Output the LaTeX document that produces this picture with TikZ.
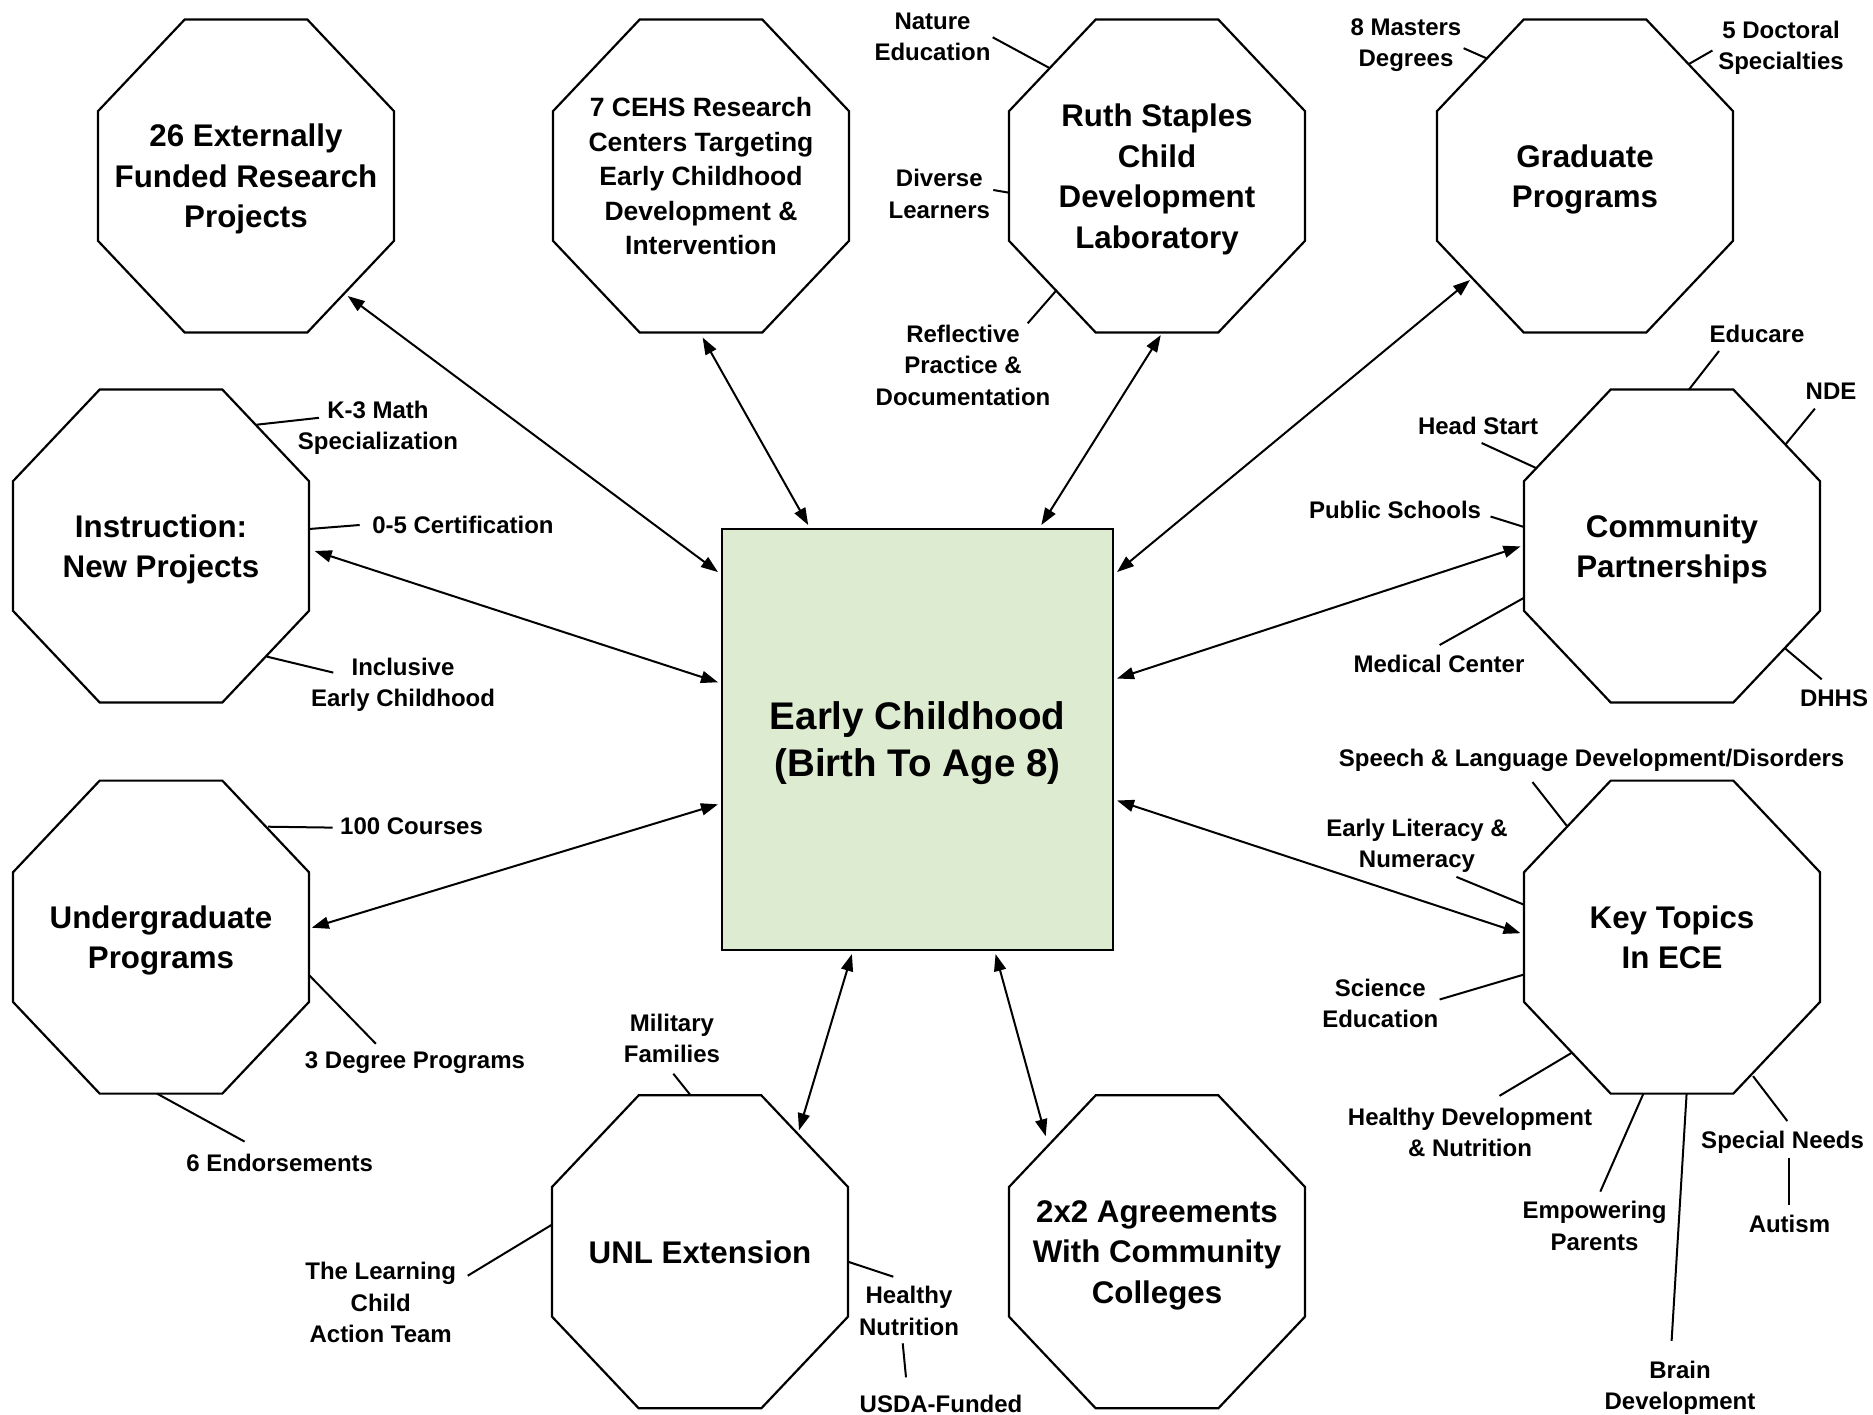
\documentclass[tikz,border=0pt]{standalone}
\usepackage{fontspec}
\setmainfont{Liberation Sans}
\usetikzlibrary{shapes,arrows,arrows.meta,calc,positioning}
\definecolor{hubfill}{RGB}{221,235,209}
\tikzset{oct/.style={rectangle,outer sep=0pt,inner sep=0pt,minimum width=296pt,minimum height=313pt,text depth=0pt,align=center,font=\fontsize{31.3}{40.6}\selectfont\bfseries}}
\tikzset{octline/.style={draw,line width=2.2pt,line join=miter}}
\tikzset{hub/.style={rectangle,draw,fill=hubfill,line width=2pt,minimum width=391pt,minimum height=421pt,outer sep=4pt,text depth=0pt,align=center,font=\fontsize{38.5}{47}\selectfont\bfseries}}
\tikzset{lbl/.style={inner sep=2pt,align=center,font=\fontsize{24}{31.5}\selectfont\bfseries}}
\tikzset{lead/.style={draw,line width=2pt}}
\tikzset{link/.style={draw,line width=2pt,<->}}

\begin{document}
\begin{tikzpicture}[x=1pt,y=-1pt,>={Triangle[length=17pt,width=12pt]}]
    \useasboundingbox (0,0) rectangle (1873,1414);

    \node[hub] (hub) at (917.5,739.5) {Early Childhood\\(Birth To Age 8)};

    \node[oct] (ext) at (246,176) {26 Externally\\Funded Research\\Projects};
    \node[oct,font=\fontsize{26.5}{34.6}\selectfont\bfseries] (cehs) at (701,176) {7 CEHS Research\\Centers Targeting\\Early Childhood\\Development \&\\Intervention};
    \node[oct] (ruth) at (1157,176) {Ruth Staples\\Child\\Development\\Laboratory};
    \node[oct] (grad) at (1585,176) {Graduate\\Programs};
    \node[oct] (instr) at (161,546) {Instruction:\\New Projects};
    \node[oct] (comm) at (1672,546) {Community\\Partnerships};
    \node[oct] (ugrad) at (161,937.1) {Undergraduate\\Programs};
    \node[oct] (key) at (1672,937.1) {Key Topics\\In ECE};
    \node[oct] (unl) at (700,1251.8) {UNL Extension};
    \node[oct] (cc) at (1157,1251.8) {2x2 Agreements\\With Community\\Colleges};

    \foreach \o in {ext,cehs,ruth,grad,instr,comm,ugrad,key,unl,cc}
        \path[octline] ($(\o.north)!.4142!(\o.north west)$) -- ($(\o.north)!.4142!(\o.north east)$)
            -- ($(\o.east)!.4142!(\o.north east)$) -- ($(\o.east)!.4142!(\o.south east)$)
            -- ($(\o.south)!.4142!(\o.south east)$) -- ($(\o.south)!.4142!(\o.south west)$)
            -- ($(\o.west)!.4142!(\o.south west)$) -- ($(\o.west)!.4142!(\o.north west)$) -- cycle;

    \node[lbl] (k3) at (378,428) {K-3 Math\\Specialization};
    \node[lbl] (cert) at (463,525) {0-5 Certification};
    \node[lbl] (incl) at (403,685) {Inclusive\\Early Childhood};
    \node[lbl] (nat) at (932.5,37) {Nature\\Education};
    \node[lbl] (div) at (939.3,193.7) {Diverse\\Learners};
    \node[lbl] (refl) at (963,365) {Reflective\\Practice \&\\Documentation};
    \node[lbl] (mas) at (1406,45) {8 Masters\\Degrees};
    \node[lbl] (doc) at (1781,47.7) {5 Doctoral\\Specialties};
    \node[lbl] (edu) at (1757,333.8) {Educare};
    \node[lbl] (nde) at (1831,391) {NDE};
    \node[lbl] (hs) at (1478,425.6) {Head Start};
    \node[lbl] (pub) at (1395,509.6) {Public Schools};
    \node[lbl] (med) at (1439,664.4) {Medical Center};
    \node[lbl] (dhhs) at (1834,698.5) {DHHS};
    \node[lbl] (crs) at (411.6,826.2) {100 Courses};
    \node[lbl] (deg) at (415,1062.2) {3 Degree Programs};
    \node[lbl] (endo) at (279.7,1163.1) {6 Endorsements};
    \node[lbl] (sp) at (1591.6,760.5) {Speech \& Language Development/Disorders};
    \node[lbl] (lit) at (1417,845.8) {Early Literacy \&\\Numeracy};
    \node[lbl] (sci) at (1380.3,1003.3) {Science\\Education};
    \node[lbl] (hd) at (1470,1132.6) {Healthy Development\\\& Nutrition};
    \node[lbl] (emp) at (1594.5,1226) {Empowering\\Parents};
    \node[lbl] (brn) at (1680,1387.8) {Brain\\Development};
    \node[lbl] (spn) at (1782.6,1141.8) {Special Needs};
    \node[lbl] (aut) at (1789.4,1223.7) {Autism};
    \node[lbl] (mil) at (672,1038.2) {Military\\Families};
    \node[lbl] (lrn) at (380.7,1302.7) {The Learning\\Child\\Action Team};
    \node[lbl] (hn) at (909,1311) {Healthy\\Nutrition};
    \node[lbl] (usda) at (941,1404) {USDA-Funded};

    % spokes to the centre
    \path[link] ([shift={(101.7,120)}]ext.center) -- (hub.140);
    \path[link] ([shift={(1.6,161.5)}]cehs.center) -- (hub.117);
    \path[link] ([shift={(3.8,159)}]ruth.center) -- (hub.60.9);
    \path[link] ([shift={(-115,104)}]grad.center) -- (hub.40.6);
    \path[link] ([shift={(153.7,5)}]instr.center) -- (hub.164);
    \path[link] ([shift={(-151.5,0.4)}]comm.center) -- (hub.17.8);
    \path[link] ([shift={(150.8,-9.4)}]ugrad.center) -- (hub.-162.9);
    \path[link] ([shift={(-151.5,-3.9)}]key.center) -- (hub.-17);
    \path[link] ([shift={(99,-121.5)}]unl.center) -- (hub.-107.6);
    \path[link] ([shift={(-111.3,-115.6)}]cc.center) -- (hub.-70.3);

    % leaders
    \path[lead] ([shift={(95.6,-121.3)}]instr.center) -- ([shift={(-59,-10.2)}]k3.center);
    \path[lead] ([shift={(148,-17)}]instr.center) -- ([shift={(-103.3,0)}]cert.center);
    \path[lead] ([shift={(105.8,110.6)}]instr.center) -- ([shift={(-69.7,-12.4)}]incl.center);
    \path[lead] ([shift={(-107,-107.7)}]ruth.center) -- ([shift={(60.2,0.3)}]nat.center);
    \path[lead] ([shift={(-148,16.7)}]ruth.center) -- ([shift={(54,-3.7)}]div.center);
    \path[lead] ([shift={(-100.3,114)}]ruth.center) -- ([shift={(64.7,-41.7)}]refl.center);
    \path[lead] ([shift={(-97.4,-117.2)}]grad.center) -- ([shift={(57.6,3.2)}]mas.center);
    \path[lead] ([shift={(103.4,-111.7)}]grad.center) -- ([shift={(-68.6,2.8)}]doc.center);
    \path[lead] ([shift={(17,-156.5)}]comm.center) -- ([shift={(-38,17.2)}]edu.center);
    \path[lead] ([shift={(113.5,-101.6)}]comm.center) -- ([shift={(-16.1,17.6)}]nde.center);
    \path[lead] ([shift={(-135.3,-77.7)}]comm.center) -- ([shift={(3.6,17.4)}]hs.center);
    \path[lead] ([shift={(-148,-19)}]comm.center) -- ([shift={(95.5,6.9)}]pub.center);
    \path[lead] ([shift={(-148,51.8)}]comm.center) -- ([shift={(0.6,-19.4)}]med.center);
    \path[lead] ([shift={(113,102.3)}]comm.center) -- ([shift={(-12.3,-19.2)}]dhhs.center);
    \path[lead] ([shift={(107,-110.4)}]ugrad.center) -- ([shift={(-78.9,1.4)}]crs.center);
    \path[lead] ([shift={(148,37.9)}]ugrad.center) -- ([shift={(-39.1,-18.4)}]deg.center);
    \path[lead] ([shift={(-4,156.5)}]ugrad.center) -- ([shift={(-35.1,-21.5)}]endo.center);
    \path[lead] ([shift={(-105.3,-111.4)}]key.center) -- ([shift={(-59.1,21.6)}]sp.center);
    \path[lead] ([shift={(-148,-32.4)}]key.center) -- ([shift={(39.4,31.1)}]lit.center);
    \path[lead] ([shift={(-148,37.4)}]key.center) -- ([shift={(59.3,-3.8)}]sci.center);
    \path[lead] ([shift={(-100,115.5)}]key.center) -- ([shift={(29.5,-36.8)}]hd.center);
    \path[lead] ([shift={(-28.6,156.5)}]key.center) -- ([shift={(5.8,-34.4)}]emp.center);
    \path[lead] ([shift={(14.6,156.5)}]key.center) -- ([shift={(-8.4,-47)}]brn.center);
    \path[lead] ([shift={(81,139)}]key.center) -- ([shift={(4.7,-20.8)}]spn.center);
    \path[lead] ([shift={(6.4,16)}]spn.center) -- ([shift={(-0.4,-18.4)}]aut.center);
    \path[lead] ([shift={(-9.4,-156.5)}]unl.center) -- ([shift={(1.3,35.5)}]mil.center);
    \path[lead] ([shift={(-148,-27.2)}]unl.center) -- ([shift={(87,-27)}]lrn.center);
    \path[lead] ([shift={(148,9.9)}]unl.center) -- ([shift={(-15.7,-34.3)}]hn.center);
    \path[lead] ([shift={(-6.3,32.3)}]hn.center) -- ([shift={(-35,-26.7)}]usda.center);
\end{tikzpicture}
\end{document}
